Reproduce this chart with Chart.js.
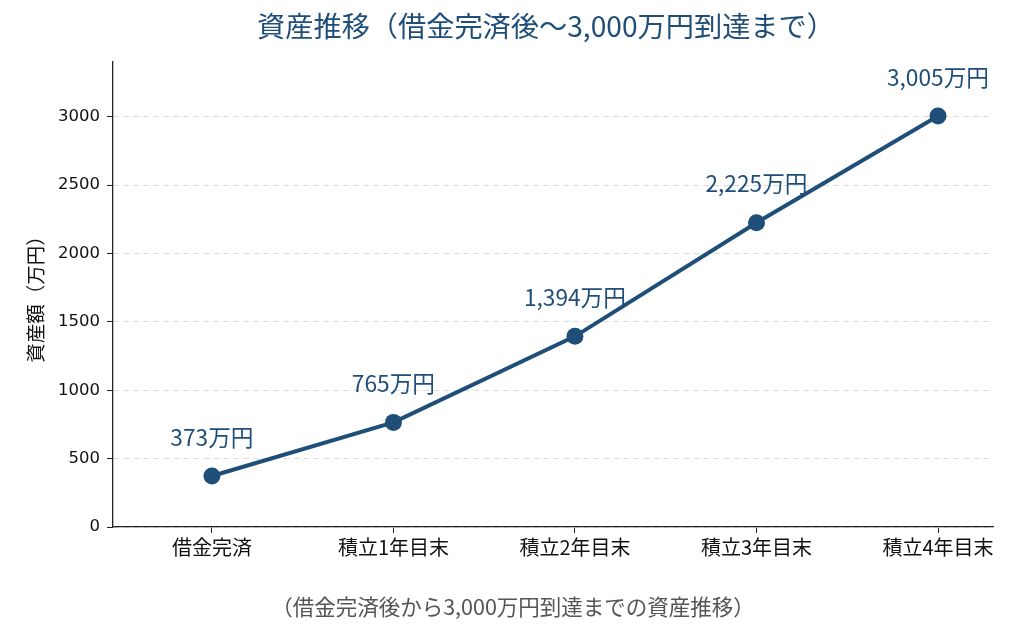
<!DOCTYPE html>
<html>
<head>
<meta charset="utf-8">
<script src="https://cdn.jsdelivr.net/npm/chart.js@4/dist/chart.umd.min.js"></script>
<style>
  body { margin: 0; background: #fff; }
  #assetChart { display: block; }
</style>
</head>
<body>
<canvas id="assetChart" width="1024" height="628"></canvas>
<script>
var categories = ["借金完済", "積立1年目末", "積立2年目末", "積立3年目末", "積立4年目末"];
var assetValues = [373, 765, 1394, 2225, 3005];
var yTicks = [0, 500, 1000, 1500, 2000, 2500, 3000];

var titleText = "資産推移（借金完済後〜3,000万円到達まで）";
var subText = "（借金完済後から3,000万円到達までの資産推移）";
var yTitle = "資産額（万円）";

var navy = "#1f4e79";
var jpFont = "'Noto Sans CJK JP', 'Noto Sans', sans-serif";

// point labels like "3,005万円" above each marker
const pointLabels = {
  id: "pointLabels",
  afterDatasetsDraw(chart) {
    const ctx = chart.ctx;
    const meta = chart.getDatasetMeta(0);
    ctx.save();
    ctx.font = "22.7px " + jpFont;
    ctx.fillStyle = navy;
    ctx.textAlign = "center";
    ctx.textBaseline = "middle";
    meta.data.forEach((pt, i) => {
      ctx.fillText(assetValues[i].toLocaleString("en-US") + "万円", pt.x, pt.y - 39);
    });
    ctx.restore();
  }
};

// title on top, caption below the axis
const captions = {
  id: "captions",
  afterDraw(chart) {
    const ctx = chart.ctx;
    ctx.save();
    ctx.textAlign = "center";
    ctx.textBaseline = "middle";
    ctx.font = "28.2px " + jpFont;
    ctx.fillStyle = navy;
    ctx.fillText(titleText, 546, 26);
    ctx.font = "21.5px " + jpFont;
    ctx.fillStyle = "#555";
    ctx.fillText(subText, 513, 607);
    ctx.restore();
  }
};

new Chart("assetChart", {
  type: "line",
  data: {
    datasets: [{
      data: assetValues.map((v, i) => ({ x: i, y: v })),
      borderColor: navy,
      backgroundColor: navy,
      borderWidth: 4,
      pointRadius: 8.5,
      pointHoverRadius: 8.5,
      pointBackgroundColor: navy,
      pointBorderWidth: 0,
      tension: 0
    }]
  },
  options: {
    responsive: false,
    animation: false,
    devicePixelRatio: 1,
    layout: { padding: { top: 62, right: 31, bottom: 61, left: 0 } },
    plugins: {
      legend: { display: false },
      tooltip: { enabled: false }
    },
    scales: {
      x: {
        type: "linear",
        min: -0.545,
        max: 4.303,
        afterFit(scale) { scale.height = 40; },
        afterBuildTicks(scale) { scale.ticks = categories.map((c, i) => ({ value: i })); },
        grid: { drawOnChartArea: false, tickLength: 6, tickColor: "#222", tickWidth: 1 },
        border: { color: "#222", width: 1.3 },
        ticks: {
          padding: 2,
          maxRotation: 0,
          autoSkip: false,
          color: "#111",
          font: { family: jpFont, size: 20 },
          callback: (v) => categories[v]
        }
      },
      y: {
        min: 0,
        max: 3400,
        afterFit(scale) { scale.width = 113; },
        afterBuildTicks(scale) { scale.ticks = yTicks.map(v => ({ value: v })); },
        grid: { color: "#dcdcdc", lineWidth: 1, tickLength: 6, tickColor: "#222", tickWidth: 1 },
        border: { color: "#222", width: 1.3, dash: [6, 4] },
        ticks: {
          padding: 7,
          color: "#111",
          font: { family: "'DejaVu Sans', sans-serif", size: 16.5 },
          callback: (v) => String(v)
        },
        title: {
          display: true,
          text: yTitle,
          color: "#111",
          font: { family: jpFont, size: 19.5 },
          padding: { top: 24, bottom: 0 }
        }
      }
    }
  },
  plugins: [pointLabels, captions]
});
</script>
</body>
</html>
